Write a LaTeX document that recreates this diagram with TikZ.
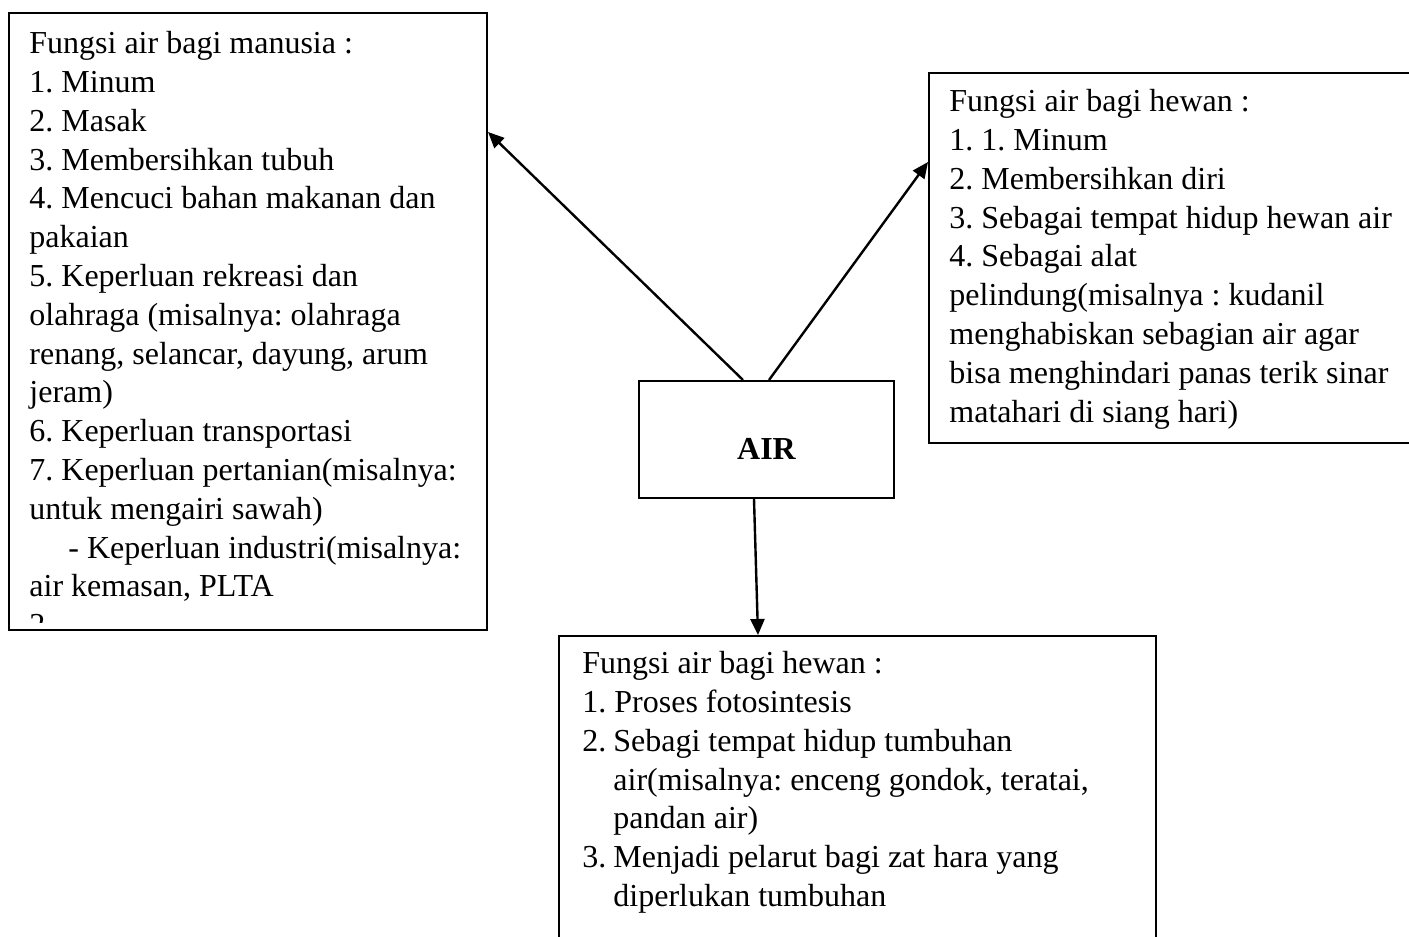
\documentclass[tikz,border=0pt]{standalone}
\usepackage{fontspec}
\setmainfont{Liberation Serif}
\usetikzlibrary{arrows.meta, positioning}
\frenchspacing

\begin{document}
\begin{tikzpicture}[
    x=0.5pt, y=-0.5pt,
    fn-box/.style={draw, line width=1pt, inner sep=0pt, anchor=north west},
    fn-txt/.style={inner sep=0pt, anchor=north west, align=left, font=\fontsize{16}{19.4}\selectfont},
    fn-arr/.style={-{Triangle[length=8pt, width=7pt]}, line width=1.2pt}
  ]

  \useasboundingbox (0,0) rectangle (1409,937);
  \clip (0,0) rectangle (1409,937);

  \node (air) [fn-box, minimum width=127.5pt, minimum height=58.5pt] at (638,380) {};
  \node (air-lbl) [font=\fontsize{16}{19.4}\selectfont\bfseries] at ([yshift=-4.5pt]air.center) {AIR};

  \node (mns) [fn-box, minimum width=239pt, minimum height=308.5pt] at (8,12) {};
  \begin{scope}
    \clip (mns.north west) rectangle ([yshift=4.5pt]mns.south east);
    \node (mns-txt) [fn-txt] at ([xshift=10.5pt, yshift=-9.5pt]mns.north west) {
      Fungsi air bagi manusia :\\
      1. Minum\\
      2. Masak\\
      3. Membersihkan tubuh\\
      4. Mencuci bahan makanan dan\\
      pakaian\\
      5. Keperluan rekreasi dan\\
      olahraga (misalnya: olahraga\\
      renang, selancar, dayung, arum\\
      jeram)\\
      6. Keperluan transportasi\\
      7. Keperluan pertanian(misalnya:\\
      untuk mengairi sawah)\\
      \hspace*{19.5pt}- Keperluan industri(misalnya:\\
      air kemasan, PLTA\\
      2
    };
  \end{scope}

  \node (hwn) [fn-box, minimum width=246pt, minimum height=185pt] at (928,72) {};
  \node (hwn-txt) [fn-txt] at ([xshift=10.5pt, yshift=-8.5pt]hwn.north west) {
    Fungsi air bagi hewan :\\
    1. 1. Minum\\
    2. Membersihkan diri\\
    3. Sebagai tempat hidup hewan air\\
    4. Sebagai alat\\
    pelindung(misalnya : kudanil\\
    menghabiskan sebagian air agar\\
    bisa menghindari panas terik sinar\\
    matahari di siang hari)
  };

  \node (tmb) [fn-box, minimum width=298.5pt, minimum height=157.5pt] at (558,635) {};
  \node (tmb-txt) [fn-txt] at ([xshift=12pt, yshift=-8pt]tmb.north west) {
    Fungsi air bagi hewan :\\
    1. Proses fotosintesis\\
    \makebox[15.5pt][l]{2.}Sebagi tempat hidup tumbuhan\\
    \hspace*{15.5pt}air(misalnya: enceng gondok, teratai,\\
    \hspace*{15.5pt}pandan air)\\
    \makebox[15.5pt][l]{3.}Menjadi pelarut bagi zat hara yang\\
    \hspace*{15.5pt}diperlukan tumbuhan
  };

  \draw[fn-arr] ([xshift=52.5pt]air.north west) -- ([yshift=-60pt]mns.north east);
  \draw[fn-arr] ([xshift=65.5pt]air.north west) -- ([yshift=-45pt]hwn.north west);
  \draw[fn-arr] ([xshift=58pt]air.south west) -- ([xshift=100pt]tmb.north west);

\end{tikzpicture}
\end{document}
